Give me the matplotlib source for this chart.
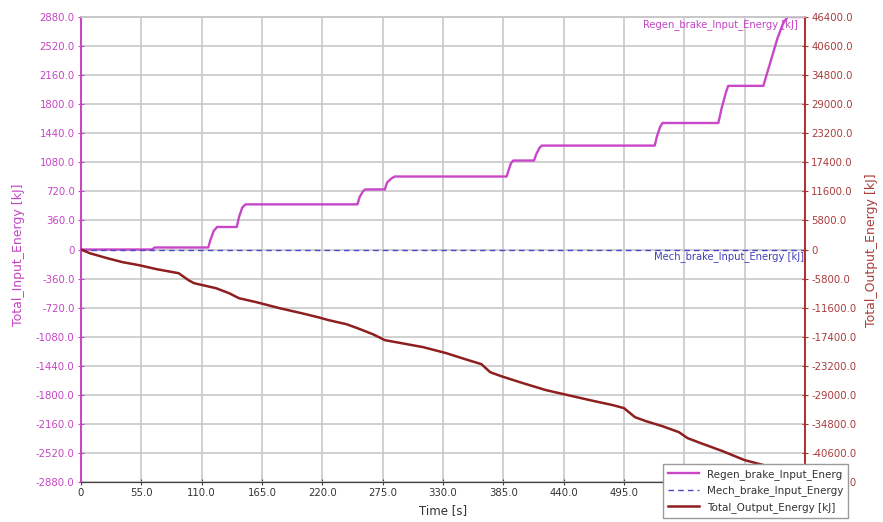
import matplotlib
matplotlib.use('Agg')
import matplotlib.pyplot as plt

# ---- data ----
time_regen = [0, 65, 67, 116, 118, 121, 124, 142, 144, 147, 150, 252, 254, 257, 259,
              277, 279, 283, 286, 388, 390, 392, 394, 413, 415, 418, 420, 523, 525,
              528, 530, 581, 584, 588, 590, 622, 628, 635, 640, 644, 660]
regen_energy = [0, 0, 25, 25, 120, 230, 279, 279, 400, 520, 559, 559, 650, 720, 744,
                744, 830, 880, 904, 904, 990, 1070, 1102, 1102, 1180, 1260, 1287, 1287, 1400,
                1520, 1567, 1567, 1750, 1950, 2027, 2027, 2300, 2620, 2800, 2880, 2880]

time_mech = [0, 660]
mech_energy = [0, 0]

time_out = [0, 8, 24, 38, 53, 69, 89, 98, 103, 115, 123, 135, 144, 160, 181, 201, 216,
            226, 242, 252, 266, 277, 292, 312, 333, 353, 365, 373, 383, 403, 424, 444,
            464, 485, 495, 505, 515, 530, 545, 553, 565, 585, 605, 626, 643, 660]
output_energy = [0, -740, -1740, -2530, -3130, -3930, -4730, -6120, -6720, -7320, -7720,
                 -8720, -9720, -10520, -11710, -12710, -13510, -14110, -14910, -15700,
                 -16900, -18090, -18690, -19490, -20690, -22080, -22880, -24480, -25280,
                 -26680, -28070, -29070, -30070, -31070, -31660, -33460, -34260, -35260,
                 -36450, -37650, -38650, -40250, -42040, -43240, -44430, -45230]

x_ticks = [0, 55, 110, 165, 220, 275, 330, 385, 440, 495, 550, 605, 660]
x_ticklabels = ['0', '55.0', '110.0', '165.0', '220.0', '275.0', '330.0', '385.0',
                '440.0', '495.0', '', '', '']  # last ones hidden behind the legend
left_ticks = [-2880, -2520, -2160, -1800, -1440, -1080, -720, -360, 0,
              360, 720, 1080, 1440, 1800, 2160, 2520, 2880]
right_ticks = [-46400, -40600, -34800, -29000, -23200, -17400, -11600, -5800, 0,
               5800, 11600, 17400, 23200, 29000, 34800, 40600, 46400]

labels = ["Regen_brake_Input_Energ", "Mech_brake_Input_Energy", "Total_Output_Energy [kJ]"]

# ---- style ----
MAG = '#C846C8'
MAG_TXT = '#C445C4'
RED = '#8E1F1F'
RED_TXT = '#A83C3C'
BLUE = '#4848C8'
GRID = '#C8C8C8'
FS = 7.3

plt.rcParams['font.family'] = ['DejaVu Sans']

W, H = 883, 522
fig = plt.figure(figsize=(W / 100, H / 100), dpi=100)
L, R, T, B = 81, 805, 17, 482
ax = fig.add_axes([L / W, 1 - B / H, (R - L) / W, (B - T) / H])
ax2 = ax.twinx()

def fmt(v):
    if v == 0:
        return '0'
    return ('%.1f' % v)

ax.set_xlim(0, 660)
ax.set_ylim(-2880, 2880)
ax2.set_ylim(-46400, 46400)

ax.set_xticks(x_ticks)
ax.set_xticklabels(x_ticklabels, fontsize=FS, color='#333333')
ax.set_yticks(left_ticks)
ax.set_yticklabels([fmt(v) for v in left_ticks], fontsize=FS, color=MAG_TXT)
ax2.set_yticks(right_ticks)
ax2.set_yticklabels([fmt(v) for v in right_ticks], fontsize=FS, color=RED_TXT)

ax.grid(True, color=GRID, linewidth=1.2)
ax.set_axisbelow(True)

ax.tick_params(axis='x', direction='inout', length=5, color='#404040', pad=2)
ax.tick_params(axis='y', direction='inout', length=5, color=MAG, pad=2)
ax2.tick_params(axis='y', direction='inout', length=5, color='#B03030', pad=2)

for a in (ax, ax2):
    a.spines['left'].set_color(MAG)
    a.spines['left'].set_linewidth(1.3)
    a.spines['right'].set_color('#B03030')
    a.spines['right'].set_linewidth(1.3)
    a.spines['bottom'].set_color('#404040')
    a.spines['top'].set_color(GRID)
    a.spines['top'].set_linewidth(1.2)

l1, = ax.plot(time_regen, regen_energy, color=MAG, linewidth=1.7, zorder=4)
l2, = ax.plot(time_mech, mech_energy, color=BLUE, linewidth=1.0, linestyle=(0, (4, 3)), zorder=5)
l3, = ax2.plot(time_out, output_energy, color=RED, linewidth=1.8, zorder=3)

ax.text(798 / W, 1 - 25 / H, 'Regen_brake_Input_Energy [kJ]', transform=fig.transFigure,
        ha='right', va='center', fontsize=7.2, color=MAG_TXT)
ax.text(804 / W, 1 - 257 / H, 'Mech_brake_Input_Energy [kJ]', transform=fig.transFigure,
        ha='right', va='center', fontsize=7.2, color='#4040B8')

fig.text(19 / W, 1 - 255 / H, 'Total_Input_Energy [kJ]', rotation=90, ha='center',
         va='center', fontsize=9, color=MAG_TXT)
fig.text(871 / W, 1 - 250 / H, 'Total_Output_Energy [kJ]', rotation=90, ha='center',
         va='center', fontsize=9, color=RED_TXT)
fig.text(443 / W, 1 - 511 / H, 'Time [s]', ha='center', va='center', fontsize=8.5,
         color='#333333')

leg = fig.legend([l1, l2, l3], labels, loc='upper left',
                 bbox_to_anchor=(663 / W, 1 - 464 / H), fontsize=7.5,
                 frameon=True, fancybox=False, edgecolor='#9A9A9A', framealpha=1,
                 handlelength=3.0, handletextpad=0.8, borderpad=0.45,
                 labelspacing=0.55, borderaxespad=0)
leg.get_frame().set_linewidth(1.0)
for t in leg.get_texts():
    t.set_color('#333333')

fig.savefig('out.png', dpi=100)
